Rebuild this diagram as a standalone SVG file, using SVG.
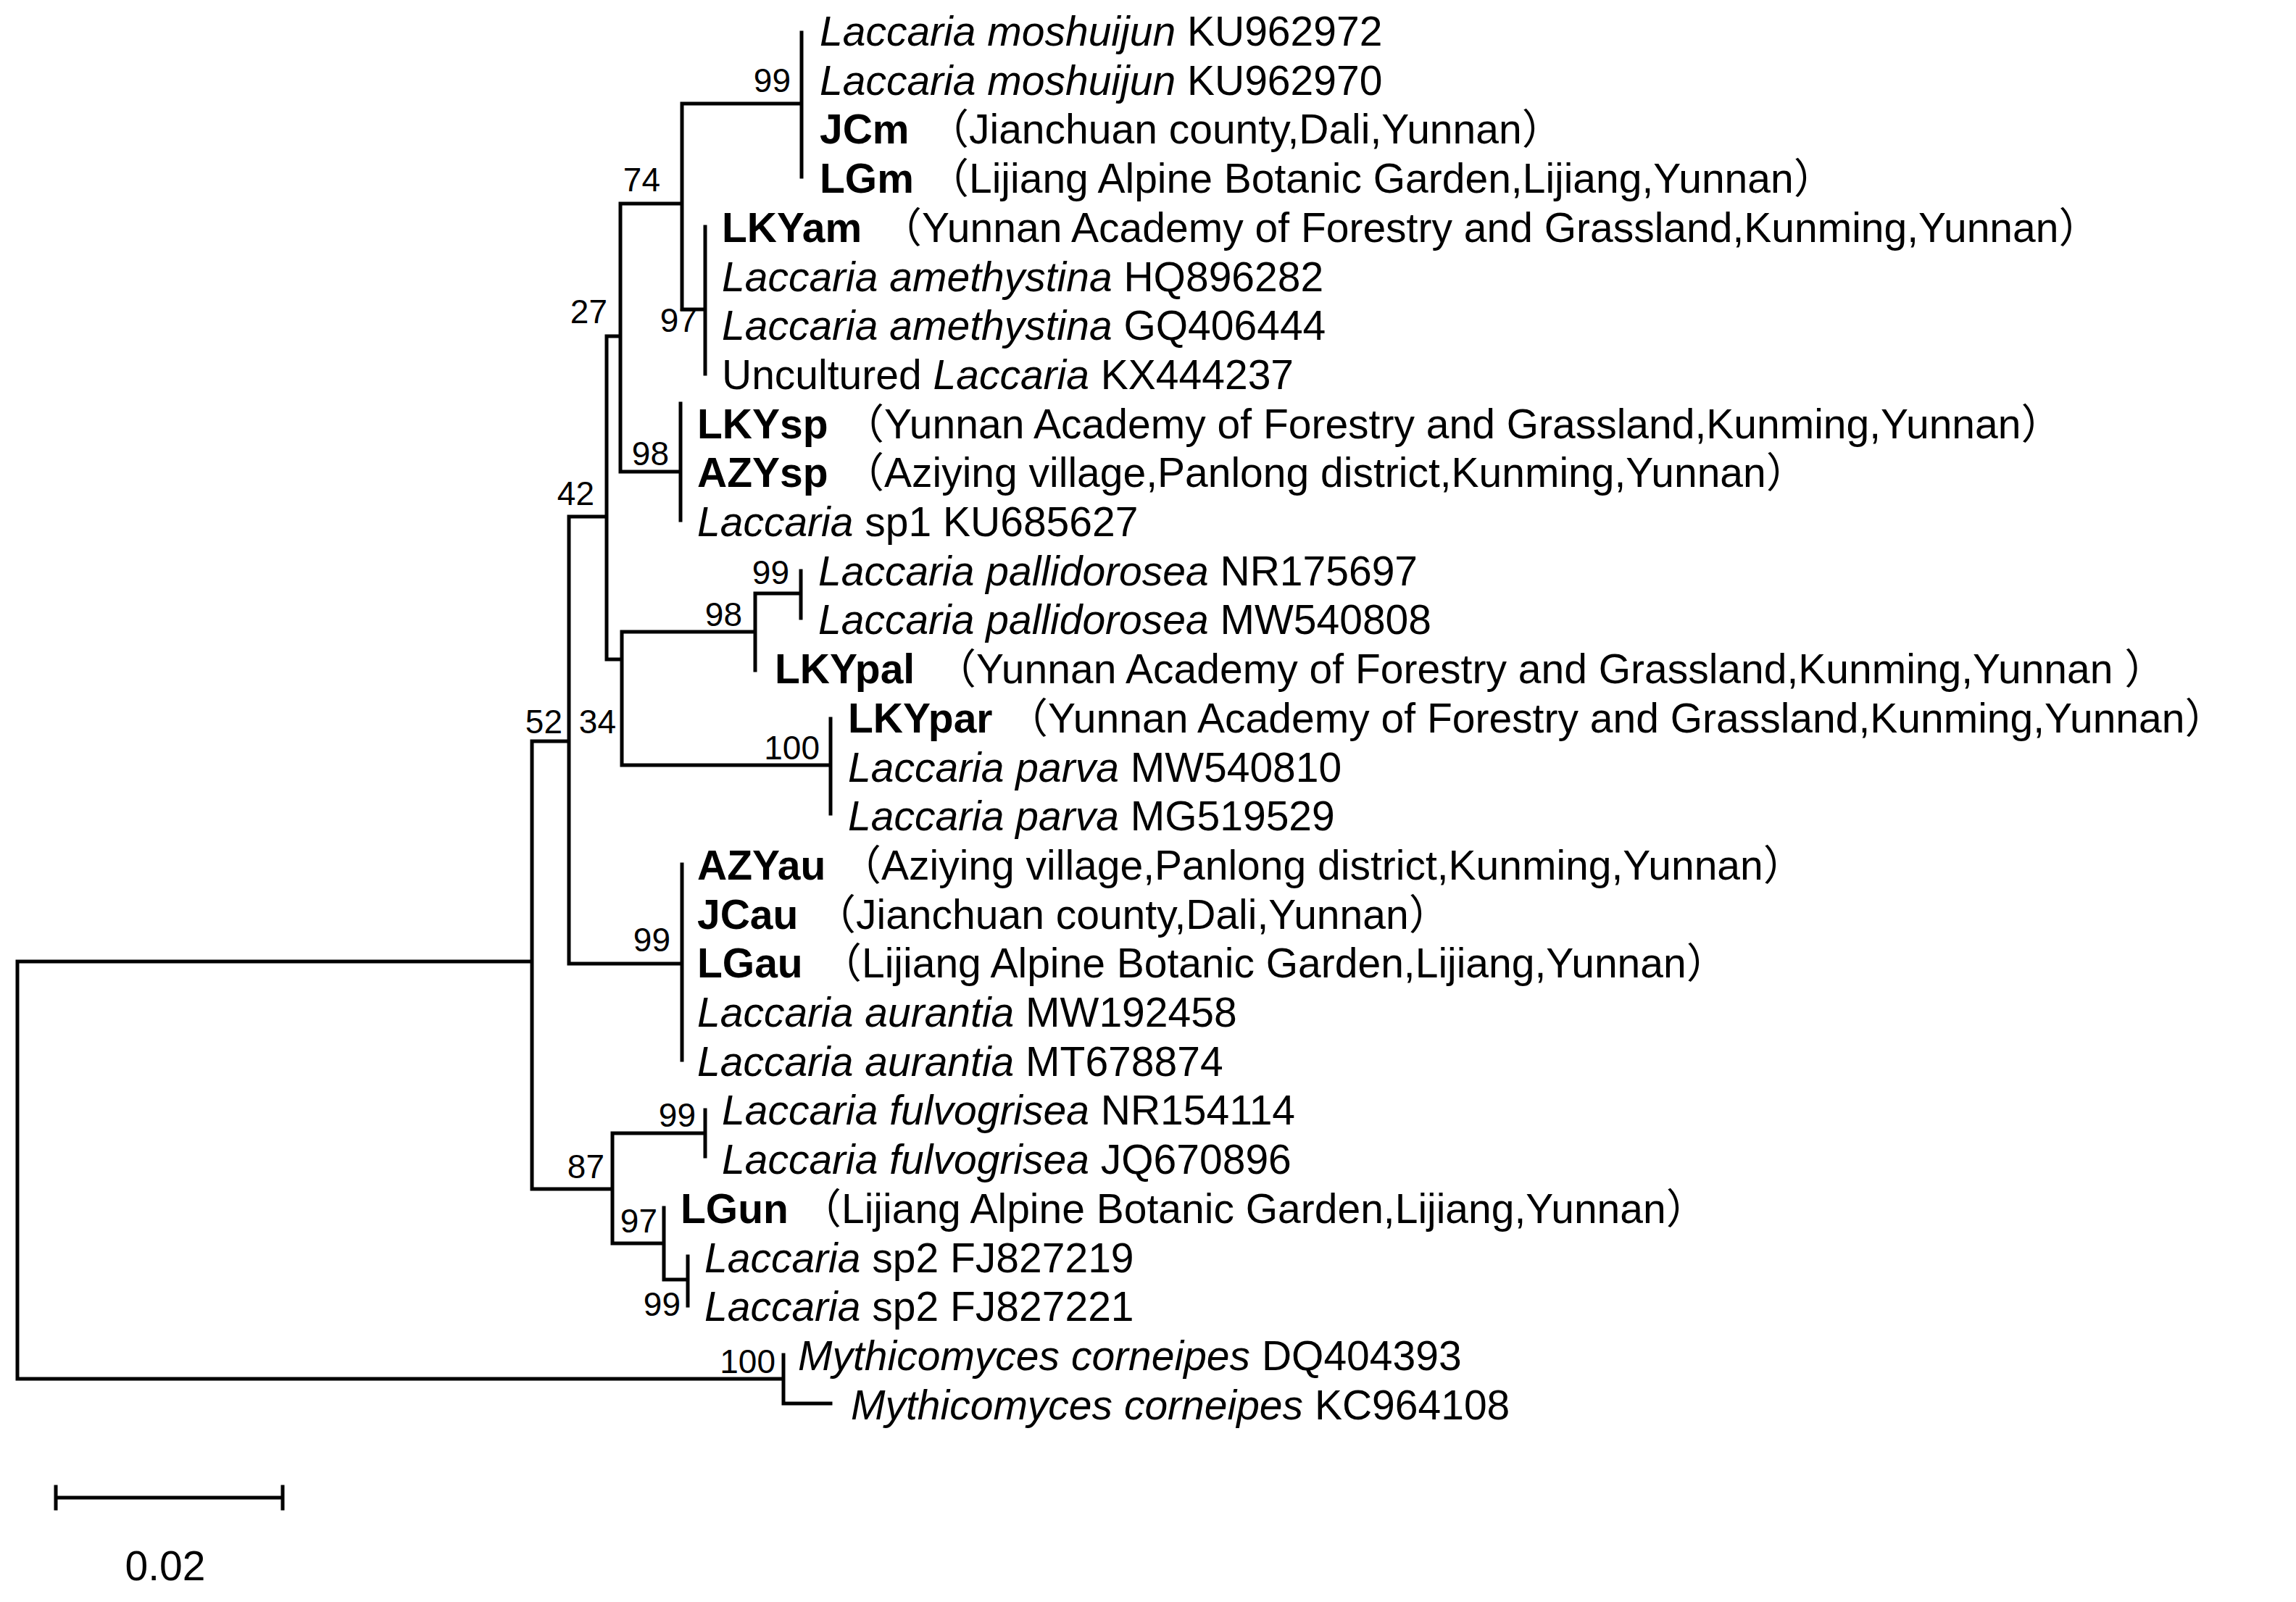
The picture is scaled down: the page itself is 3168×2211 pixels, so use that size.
<svg xmlns="http://www.w3.org/2000/svg" width="3168" height="2211" viewBox="0 0 3168 2211">
<style>
.e{stroke:#000;stroke-width:5;fill:none;stroke-linecap:square}
text{font-family:"Liberation Sans","Noto Sans CJK SC",sans-serif;fill:#000}
.l{font-size:57px}
.b{font-size:46px;text-anchor:end}
.i{font-style:italic}
.w{font-weight:bold}
</style>
<rect width="3168" height="2211" fill="#fff"/>
<g id="connectors">
<path class="e" d="M24,1327V1903M24,1327H734M24,1903H1081M1081,1870V1937M1081,1937H1146
M734,1023V1641M734,1023H785M785,713V1330M785,713H837M785,1330H941M941,1193V1463
M837,464V910M837,464H856M856,281V651M856,281H941M856,651H939M941,143V427M941,143H1106M1106,45V244M941,427H973M973,313V516M939,557V718
M837,910H858M858,872V1056M858,872H1042M1042,819V925M1042,819H1105M1105,788V853M858,1056H1146M1146,992V1123
M734,1641H845M845,1564V1716M845,1564H973M973,1532V1596M845,1716H916M916,1667V1766M916,1766H949M949,1734V1802"/>
<path class="e" d="M77,2067H390M77,2052V2082M390,2052V2082"/>
</g>
<g id="bootstrap">
<text class="b" x="1091" y="127">99</text>
<text class="b" x="911" y="264">74</text>
<text class="b" x="962" y="458">97</text>
<text class="b" x="838" y="446">27</text>
<text class="b" x="923" y="642">98</text>
<text class="b" x="820" y="697">42</text>
<text class="b" x="1089" y="806">99</text>
<text class="b" x="1024" y="864">98</text>
<text class="b" x="776" y="1012">52</text>
<text class="b" x="850" y="1012">34</text>
<text class="b" x="1131" y="1048">100</text>
<text class="b" x="925" y="1313">99</text>
<text class="b" x="960" y="1555">99</text>
<text class="b" x="834" y="1626">87</text>
<text class="b" x="907" y="1701">97</text>
<text class="b" x="939" y="1816">99</text>
<text class="b" x="1070" y="1895">100</text>
</g>
<g id="leaves" class="l">
<text id="n0" x="1131" y="63"><tspan class="i">Laccaria moshuijun</tspan> KU962972</text>
<text id="n1" x="1131" y="131"><tspan class="i">Laccaria moshuijun</tspan> KU962970</text>
<text id="n2" x="1131" y="198"><tspan class="w">JCm</tspan><tspan x="1280">（Jianchuan county,Dali,Yunnan）</tspan></text>
<text id="n3" x="1131" y="266"><tspan class="w">LGm</tspan><tspan x="1280">（Lijiang Alpine Botanic Garden,Lijiang,Yunnan）</tspan></text>
<text id="n4" x="996" y="334"><tspan class="w">LKYam</tspan><tspan x="1215">（Yunnan Academy of Forestry and Grassland,Kunming,Yunnan）</tspan></text>
<text id="n5" x="996" y="402"><tspan class="i">Laccaria amethystina</tspan> HQ896282</text>
<text id="n6" x="996" y="469"><tspan class="i">Laccaria amethystina</tspan> GQ406444</text>
<text id="n7" x="996" y="537">Uncultured <tspan class="i">Laccaria</tspan> KX444237</text>
<text id="n8" x="962" y="605"><tspan class="w">LKYsp</tspan><tspan x="1163">（Yunnan Academy of Forestry and Grassland,Kunming,Yunnan）</tspan></text>
<text id="n9" x="962" y="672"><tspan class="w">AZYsp</tspan><tspan x="1163">（Aziying village,Panlong district,Kunming,Yunnan）</tspan></text>
<text id="n10" x="962" y="740"><tspan class="i">Laccaria</tspan> sp1 KU685627</text>
<text id="n11" x="1129" y="808"><tspan class="i">Laccaria pallidorosea</tspan> NR175697</text>
<text id="n12" x="1129" y="875"><tspan class="i">Laccaria pallidorosea</tspan> MW540808</text>
<text id="n13" x="1069" y="943"><tspan class="w">LKYpal</tspan><tspan x="1290">（Yunnan Academy of Forestry and Grassland,Kunming,Yunnan ）</tspan></text>
<text id="n14" x="1170" y="1011"><tspan class="w">LKYpar</tspan><tspan x="1389">（Yunnan Academy of Forestry and Grassland,Kunming,Yunnan）</tspan></text>
<text id="n15" x="1170" y="1079"><tspan class="i">Laccaria parva</tspan> MW540810</text>
<text id="n16" x="1170" y="1146"><tspan class="i">Laccaria parva</tspan> MG519529</text>
<text id="n17" x="962" y="1214"><tspan class="w">AZYau</tspan><tspan x="1159">（Aziying village,Panlong district,Kunming,Yunnan）</tspan></text>
<text id="n18" x="962" y="1282"><tspan class="w">JCau</tspan><tspan x="1124">（Jianchuan county,Dali,Yunnan）</tspan></text>
<text id="n19" x="962" y="1349"><tspan class="w">LGau</tspan><tspan x="1132">（Lijiang Alpine Botanic Garden,Lijiang,Yunnan）</tspan></text>
<text id="n20" x="962" y="1417"><tspan class="i">Laccaria aurantia</tspan> MW192458</text>
<text id="n21" x="962" y="1485"><tspan class="i">Laccaria aurantia</tspan> MT678874</text>
<text id="n22" x="996" y="1552"><tspan class="i">Laccaria fulvogrisea</tspan> NR154114</text>
<text id="n23" x="996" y="1620"><tspan class="i">Laccaria fulvogrisea</tspan> JQ670896</text>
<text id="n24" x="939" y="1688"><tspan class="w">LGun</tspan><tspan x="1104">（Lijiang Alpine Botanic Garden,Lijiang,Yunnan）</tspan></text>
<text id="n25" x="972" y="1756"><tspan class="i">Laccaria</tspan> sp2 FJ827219</text>
<text id="n26" x="972" y="1823"><tspan class="i">Laccaria</tspan> sp2 FJ827221</text>
<text id="n27" x="1101" y="1891"><tspan class="i">Mythicomyces corneipes</tspan> DQ404393</text>
<text id="n28" x="1174" y="1959"><tspan class="i">Mythicomyces corneipes</tspan> KC964108</text>
</g>
<g id="scale"><text class="l" x="228" y="2181" text-anchor="middle">0.02</text></g>
</svg>
